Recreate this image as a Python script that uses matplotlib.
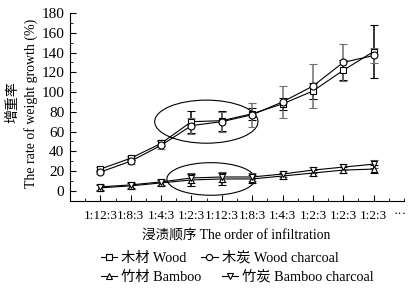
import numpy as np
import matplotlib
matplotlib.use("Agg")
import matplotlib.pyplot as plt
from matplotlib.patches import Ellipse
from matplotlib.ticker import MultipleLocator

plt.rcParams['font.family'] = ['Liberation Serif', 'Noto Sans CJK SC']

x = np.arange(1, 11)
order_labels = ["1:12:3", "1:8:3", "1:4:3", "1:2:3", "1:12:3",
                "1:8:3", "1:4:3", "1:2:3", "1:2:3", "1:2:3"]

wood = [22, 33, 48, 70, 71, 78, 88, 101, 122, 141]
wood_err = [2, 2, 3, 11, 10, 6, 6, 8, 10, 27]
wood_charcoal = [19, 30, 46, 66, 70, 77, 90, 106, 130, 137]
wood_charcoal_err = [2, 3, 4, 8, 10, 12, 16, 22, 19, 8]
bamboo = [3, 5, 8, 11, 12, 12, 15, 18, 21, 22]
bamboo_err = [3, 3, 3, 6, 6, 4, 3, 3, 3, 4]
bamboo_charcoal = [4, 6, 9, 13, 14, 14, 17, 21, 24, 27]
bamboo_charcoal_err = [3, 3, 3, 5, 5, 4, 3, 3, 3, 4]

fig = plt.figure(figsize=(4.16, 2.94), dpi=100)
ax = fig.add_axes([70/416, 1-200.7/294, 334/416, 187.7/294])

def series(y, err, marker, ecol, ms=5):
    ax.errorbar(x, y, yerr=err, color='black', ecolor=ecol, elinewidth=1.1,
                capsize=3, capthick=1.1, lw=0.8, marker=marker, ms=ms,
                mfc='white', mec='black', mew=0.8)

series(wood, wood_err, 's', 'black')
series(wood_charcoal, wood_charcoal_err, 'o', '#707070')
series(bamboo, bamboo_err, '^', 'black')
series(bamboo_charcoal, bamboo_charcoal_err, 'v', '#505050')

# ellipses marking the first round
ax.add_patch(Ellipse((4.49, 70), 3.4, 43.6, fill=False, ec='black', lw=0.8))
ax.add_patch(Ellipse((4.64, 12), 2.9, 33, fill=False, ec='black', lw=0.8))

ax.set_xlim(0, 11)
ax.set_ylim(-10, 180)
ax.set_xticks(x)
ax.set_xticklabels(order_labels, fontsize=9.5)
ax.xaxis.set_minor_locator(MultipleLocator(0.5))
ax.yaxis.set_minor_locator(MultipleLocator(10))
ax.set_yticks(np.arange(0, 181, 20))
ax.tick_params(axis='y', which='major', direction='in', length=4, labelsize=11, pad=4)
ax.tick_params(axis='x', which='major', direction='in', length=4, pad=7)
ax.tick_params(which='minor', direction='in', length=2)
for s in ['top', 'right']:
    ax.spines[s].set_visible(False)

fig.text(400/416, 1-214/294, "···", fontsize=9.5, ha='center', va='center')

fig.text(12.5/416, 1-102/294, "增重率", rotation=90, fontsize=10,
         ha='center', va='center')
fig.text(31/416, 1-103/294, "The rate of weight growth (%)", rotation=90,
         fontsize=10, ha='center', va='center')
fig.text(236/416, 1-235/294, "浸渍顺序 The order of infiltration",
         fontsize=9.8, ha='center', va='center')

def handle(marker):
    return plt.Line2D([], [], color='black', lw=0.8, marker=marker, ms=4.5,
                      mfc='white', mec='black', mew=0.8)

leg_kw = dict(ncol=2, frameon=False, fontsize=10.3, handlelength=1.15,
              handletextpad=0.28, borderpad=0, borderaxespad=0, loc='center left')
leg1 = fig.legend([handle('s'), handle('o')], ["木材 Wood", "木炭 Wood charcoal"],
                  bbox_to_anchor=(101/416, 1-258/294), columnspacing=1.0, **leg_kw)
leg2 = fig.legend([handle('^'), handle('v')], ["竹材 Bamboo", "竹炭 Bamboo charcoal"],
                  bbox_to_anchor=(101/416, 1-277/294), columnspacing=1.4, **leg_kw)

fig.savefig("out.png", dpi=100)
